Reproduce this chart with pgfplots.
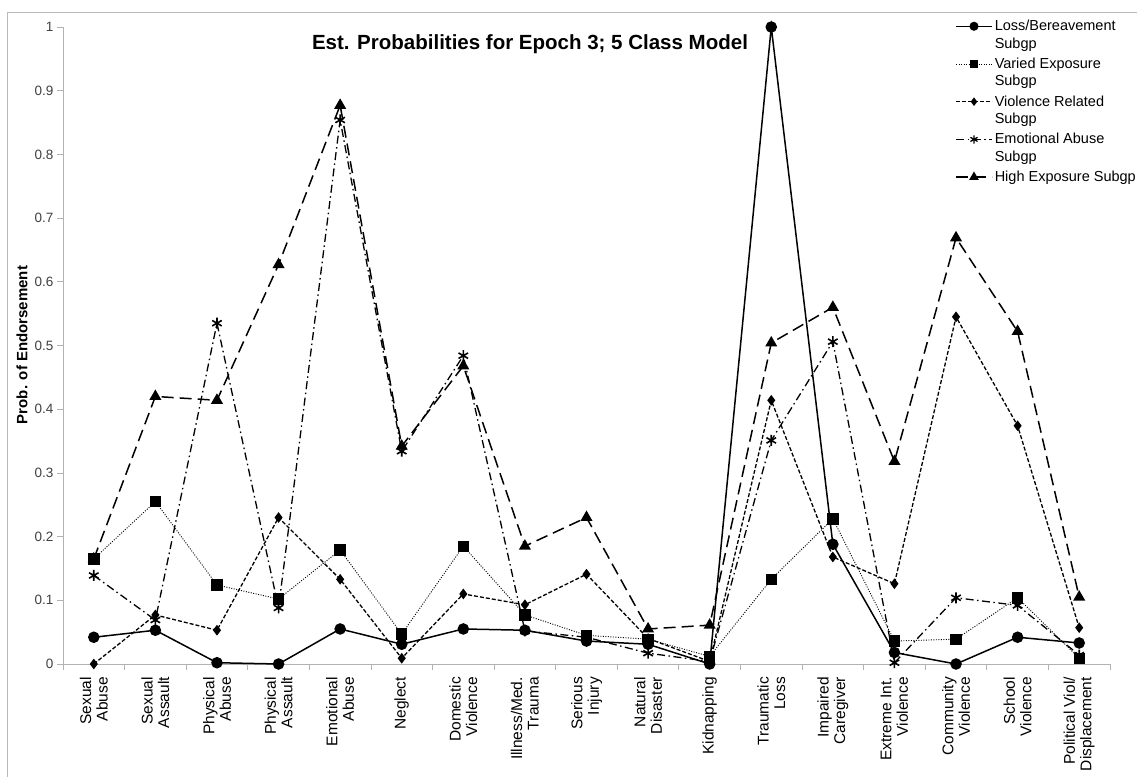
\documentclass[border=0pt]{standalone}
\usepackage{fontspec}
\setmainfont{Liberation Sans}
\usepackage{pgfplots}
\pgfplotsset{compat=1.18}
\pgfplotstableread{
x loss varied violence emotional high
0  0.042 0.165 0.000 0.139 0.165
1  0.053 0.255 0.077 0.069 0.420
2  0.002 0.124 0.053 0.535 0.414
3  0.000 0.102 0.230 0.088 0.627
4  0.055 0.179 0.133 0.854 0.877
5  0.031 0.047 0.009 0.334 0.342
6  0.055 0.185 0.110 0.484 0.468
7  0.053 0.077 0.093 0.052 0.185
8  0.036 0.045 0.141 0.042 0.230
9  0.031 0.039 0.040 0.017 0.055
10 0.000 0.012 0.004 0.004 0.061
11 1.000 0.133 0.414 0.351 0.504
12 0.188 0.228 0.168 0.506 0.560
13 0.018 0.036 0.126 0.002 0.318
14 0.000 0.039 0.545 0.104 0.669
15 0.042 0.104 0.374 0.092 0.522
16 0.033 0.009 0.057 0.014 0.105
}\datatable
\begin{document}
\begin{tikzpicture}[x=1pt,y=1pt]
\draw[gray!55, line width=0.8pt] (7,0) -- (7,765) -- (1137,765);
\begin{axis}[
  at={(63pt,113pt)}, anchor=south west,
  scale only axis, width=1047pt, height=637pt,
  xmin=-0.5, xmax=16.5, ymin=0, ymax=1,
  axis x line*=bottom, axis y line*=left,
  axis line style={draw=gray!60, line width=0.8pt, -},
  tick align=outside,
  major tick length=6pt, minor tick length=6pt,
  xtick={0,...,16},
  minor xtick={-0.5,0.5,...,16.5},
  major x tick style={draw=none},
  minor x tick style={draw=gray!60, line width=0.8pt},
  y tick style={draw=gray!60, line width=0.8pt},
  ytick={0,0.1,0.2,0.3,0.4,0.5,0.6,0.7,0.8,0.9,1},
  yticklabel style={/pgf/number format/fixed, /pgf/number format/precision=1, font=\fontsize{13.5}{15}\selectfont, text=black!75},
  /pgf/number format/assume math mode=true,
  xticklabels={{Sexual\\Abuse},{Sexual\\Assault},{Physical\\Abuse},{Physical\\Assault},{Emotional\\Abuse},{Neglect},{Domestic\\Violence},{Illness/Med.\\Trauma},{Serious\\Injury},{Natural\\Disaster},{Kidnapping},{Traumatic\\Loss},{Impaired\\Caregiver},{Extreme Int.\\Violence},{Community\\Violence},{School\\Violence},{Political Viol/\\Displacement}},
  xticklabel style={rotate=90, anchor=east, align=right, font=\fontsize{15.5}{16.5}\selectfont, inner sep=2pt},
  xticklabel shift=5pt,
  legend style={at={(0.852,1.014)}, anchor=north west, draw=none, fill=none,
    font=\fontsize{14.5}{17.5}\selectfont, cells={anchor=west, align=left}, row sep=4.2pt, inner sep=0pt},
  legend image code/.code={\draw[mark repeat=2,mark phase=2,#1,mark options={solid,scale=0.75}] plot coordinates {(0pt,8.75pt) (18pt,8.75pt) (36pt,8.75pt)};},
  clip=false,
]
\addplot[black, line width=1.5pt, mark=*, mark size=5pt, mark options={solid}] table[x=x,y=loss]{\datatable};
\addlegendentry{Loss/Bereavement\\Subgp}
\addplot[black, line width=0.9pt, dash pattern=on 1pt off 1.5pt, mark=square*, mark size=5.2pt, mark options={solid}] table[x=x,y=varied]{\datatable};
\addlegendentry{Varied Exposure\\Subgp}
\addplot[black, line width=1.3pt, dash pattern=on 4pt off 2pt, mark=diamond*, mark size=4.3pt, mark options={solid}] table[x=x,y=violence]{\datatable};
\addlegendentry{Violence Related\\Subgp}
\addplot[black, line width=1.3pt, dash pattern=on 8pt off 3.5pt on 1.5pt off 3.5pt, mark=asterisk, mark size=5.5pt, mark options={solid, line width=1.6pt}] table[x=x,y=emotional]{\datatable};
\addlegendentry{Emotional Abuse\\Subgp}
\addplot[black, line width=1.5pt, dash pattern=on 12pt off 6pt, mark=triangle*, mark size=5.5pt, mark options={solid}] table[x=x,y=high]{\datatable};
\addlegendentry{High Exposure Subgp\\\mbox{}}
\end{axis}
\node[font=\bfseries\fontsize{20.5}{23}\selectfont] at (530,733) {Est. Probabilities for Epoch 3; 5 Class Model};
\node[rotate=90, font=\bfseries\fontsize{15}{17}\selectfont] at (22,432) {Prob. of Endorsement};
\pgfresetboundingbox
\path[use as bounding box] (0,0) rectangle (1137,777);
\end{tikzpicture}
\end{document}
